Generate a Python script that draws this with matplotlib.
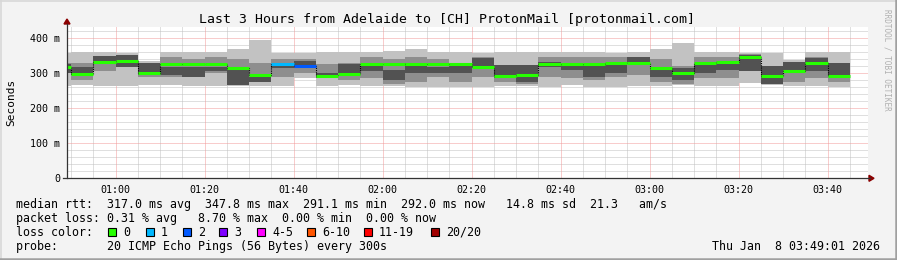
import matplotlib
matplotlib.use("Agg")
import matplotlib.pyplot as plt
from matplotlib.lines import Line2D
from matplotlib.patches import Rectangle, Polygon

# 5-minute steps (start of each step), medians and smoke bands in ms
times = ["00:45", "00:50", "00:55", "01:00", "01:05", "01:10", "01:15", "01:20", "01:25",
         "01:30", "01:35", "01:40", "01:45", "01:50", "01:55", "02:00", "02:05", "02:10",
         "02:15", "02:20", "02:25", "02:30", "02:35", "02:40", "02:45", "02:50", "02:55",
         "03:00", "03:05", "03:10", "03:15", "03:20", "03:25", "03:30", "03:35", "03:40"]
median = [319, 298, 332, 336, 302, 325, 325, 325, 315, 295, 325, 321, 292, 298, 325, 325, 325, 325,
          325, 319, 292, 295, 325, 325, 325, 328, 328, 316, 302, 328, 333, 347, 292, 307, 330, 292]
loss = [0, 0, 0, 0, 0, 0, 0, 0, 0, 0, 1, 2, 0, 0, 0, 0, 0, 0,
        0, 0, 0, 0, 0, 0, 0, 0, 0, 0, 0, 0, 0, 0, 0, 0, 0, 0]
smoke_lo = [264, 265, 264, 264, 265, 266, 264, 264, 264, 264, 264, 287, 263, 266, 264, 264, 262, 262,
            262, 262, 264, 264, 262, 265, 262, 262, 264, 264, 265, 264, 264, 272, 265, 264, 264, 262]
smoke_hi = [357, 360, 362, 357, 336, 360, 362, 362, 369, 395, 358, 358, 360, 360, 360, 364, 369, 360,
            360, 357, 362, 362, 360, 362, 362, 357, 360, 369, 386, 360, 362, 357, 357, 338, 362, 362]
q_lo = [300, 280, 305, 318, 290, 290, 290, 300, 270, 280, 290, 300, 285, 280, 285, 270, 275, 290,
        275, 290, 275, 270, 290, 285, 280, 290, 295, 275, 270, 285, 285, 315, 270, 275, 285, 275]
q_hi = [330, 330, 350, 352, 325, 345, 340, 345, 340, 330, 340, 340, 325, 330, 345, 340, 345, 340,
        330, 345, 320, 320, 345, 345, 345, 345, 345, 340, 320, 345, 345, 355, 320, 325, 345, 330]
dark_lo = [300, 295, 325, 318, 295, 295, 290, 307, 265, 276, 315, 315, 285, 300, 305, 280, 300, 300,
           300, 314, 286, 276, 319, 310, 290, 300, 329, 290, 280, 300, 310, 305, 270, 305, 305, 293]
dark_hi = [325, 319, 350, 352, 328, 319, 319, 319, 314, 290, 325, 335, 300, 326, 320, 310, 330, 319,
           320, 343, 324, 324, 331, 325, 324, 329, 345, 314, 315, 325, 330, 352, 320, 333, 343, 329]

loss_labels = ["0", "1", "2", "3", "4-5", "6-10", "11-19", "20/20"]
loss_colors = ["#26ff00", "#00b8ff", "#0059ff", "#7e00ff", "#ff00ff", "#ff5500", "#ff0000", "#a10000"]
xtick_labels = ["01:00", "01:20", "01:40", "02:00", "02:20", "02:40", "03:00", "03:20", "03:40"]
ytick_values = [0, 100, 200, 300, 400]

W, H = 897, 260
mono = "DejaVu Sans Mono"

def mins(s):
    h, m = s.split(":")
    return int(h) * 60 + int(m)

def fx(px):
    return px / W

def fy(py):
    return 1 - py / H

starts = [mins(t) for t in times]

fig = plt.figure(figsize=(W / 100, H / 100), dpi=100, facecolor="#f3f3f3")
ax = fig.add_axes([fx(67), fy(178.3), fx(868) - fx(67), fy(27) - fy(178.3)])
ax.set_facecolor("white")
for s in ax.spines.values():
    s.set_visible(False)

ax.set_xlim(49.1, 229.1)
ax.set_ylim(0, 432)

# grid
for m in range(50, 230, 5):
    if m % 20 == 0:
        continue
    ax.axvline(m, color="#c0c0c0", lw=0.72, ls=(0, (1, 1)), zorder=0)
for v in range(20, 432, 20):
    if v % 100 == 0:
        continue
    ax.axhline(v, color="#c0c0c0", lw=0.72, ls=(0, (1, 1)), zorder=0)
for m in range(60, 230, 20):
    ax.axvline(m, color="#f29a9a", lw=0.72, ls=(0, (1, 1)), zorder=0)
for v in ytick_values[1:]:
    ax.axhline(v, color="#f29a9a", lw=0.72, ls=(0, (1, 1)), zorder=0)

# smoke
ax.bar(starts, [h - l for l, h in zip(smoke_lo, smoke_hi)], bottom=smoke_lo, width=5,
       align="edge", color="#c2c2c2", linewidth=0, zorder=1)
ax.bar(starts, [h - l for l, h in zip(q_lo, q_hi)], bottom=q_lo, width=5,
       align="edge", color="#8e8e8e", linewidth=0, zorder=2)
ax.bar(starts, [h - l for l, h in zip(dark_lo, dark_hi)], bottom=dark_lo, width=5,
       align="edge", color="#525252", linewidth=0, zorder=3)

# median
ax.step(starts + [starts[-1] + 5], median + [median[-1]], where="post",
        color="black", lw=0.8, ls=(0, (1, 1)), zorder=4)
ax.hlines(median, starts, [s + 5 for s in starts],
          colors=[loss_colors[l] for l in loss], lw=2.2, zorder=5)

ax.set_xticks([mins(t) for t in xtick_labels])
ax.set_xticklabels(xtick_labels, fontfamily=mono, fontsize=7.2)
ax.set_yticks(ytick_values)
ax.set_yticklabels(["0" if v == 0 else "%d m" % v for v in ytick_values],
                   fontfamily=mono, fontsize=7.2)
ax.tick_params(axis="both", length=0, pad=5)
ax.set_ylabel("Seconds", fontfamily=mono, fontsize=8, labelpad=10)

# axis lines with arrows
fig.add_artist(Line2D([fx(67), fx(67)], [fy(178.3), fy(24)], color="#333333", lw=0.9))
fig.add_artist(Line2D([fx(63), fx(870)], [fy(178.3), fy(178.3)], color="#333333", lw=0.9))
fig.add_artist(Polygon([[fx(64), fy(24)], [fx(70), fy(24)], [fx(67), fy(19)]],
                       closed=True, color="#8b0000", transform=fig.transFigure))
fig.add_artist(Polygon([[fx(869), fy(175.3)], [fx(869), fy(181.3)], [fx(874), fy(178.3)]],
                       closed=True, color="#8b0000", transform=fig.transFigure))

fig.text(fx(447), fy(19), "Last 3 Hours from Adelaide to [CH] ProtonMail [protonmail.com]",
         fontfamily=mono, fontsize=9.5, ha="center", va="center")
fig.text(fx(887), fy(60), "RRDTOOL / TOBI OETIKER", fontfamily=mono, fontsize=5.5,
         color="#b0b0b0", rotation=-90, ha="center", va="center")

# legend block
fs = 8.37
fig.text(fx(16), fy(204.3),
         "median rtt:  317.0 ms avg  347.8 ms max  291.1 ms min  292.0 ms now   14.8 ms sd  21.3   am/s",
         fontfamily=mono, fontsize=fs, va="center")
fig.text(fx(16), fy(218.3),
         "packet loss: 0.31 % avg   8.70 % max  0.00 % min  0.00 % now",
         fontfamily=mono, fontsize=fs, va="center")
fig.text(fx(16), fy(232.3), "loss color:", fontfamily=mono, fontsize=fs, va="center")
sq_x = [108, 146, 183, 219, 257, 307, 364, 431]
for x, lab, col in zip(sq_x, loss_labels, loss_colors):
    fig.add_artist(Rectangle((fx(x), fy(236.3)), 7.5 / W, 8 / H, facecolor=col,
                             edgecolor="black", lw=0.8, transform=fig.transFigure))
    fig.text(fx(x + 15), fy(232.3), lab, fontfamily=mono, fontsize=fs, va="center")
fig.text(fx(16), fy(246.3), "probe:       20 ICMP Echo Pings (56 Bytes) every 300s",
         fontfamily=mono, fontsize=fs, va="center")
fig.text(fx(880), fy(246.3), "Thu Jan  8 03:49:01 2026", fontfamily=mono, fontsize=fs,
         va="center", ha="right")

# frame
fig.add_artist(Line2D([0, 1], [fy(0.5), fy(0.5)], color="#d8d8d8", lw=1.2))
fig.add_artist(Line2D([fx(0.5), fx(0.5)], [0, 1], color="#d8d8d8", lw=1.2))
fig.add_artist(Line2D([0, 1], [fy(258.8), fy(258.8)], color="#a0a0a0", lw=1.8))
fig.add_artist(Line2D([fx(895.8), fx(895.8)], [0, 1], color="#a0a0a0", lw=1.8))

fig.savefig("out.png", dpi=100, facecolor=fig.get_facecolor())
